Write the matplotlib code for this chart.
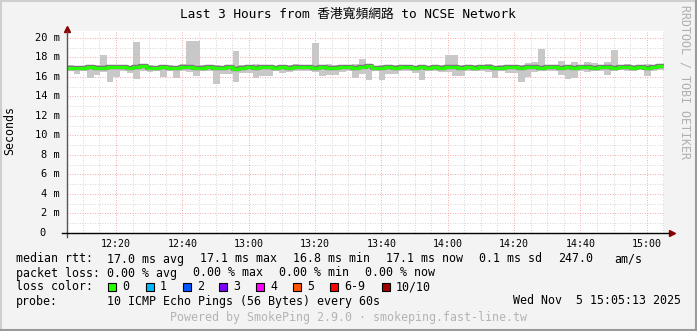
import numpy as np
import matplotlib.pyplot as plt
from matplotlib.patches import Rectangle
from matplotlib.lines import Line2D

W, H = 697, 331
MONO = 'DejaVu Sans Mono'

# time axis in minutes after 12:00, 2-minute smoke bins
t_start = 5.22
t_end = 185.22
bin_minutes = 2.0

smoke_hi = [17.2, 17.1, 17.1, 17.2, 17.2, 18.2, 17.1, 17.2, 17.1, 17.1,
            19.6, 17.1, 17.2, 17.1, 17.1, 17.2, 17.1, 17.3, 19.7, 19.7,
            17.2, 17.2, 17.2, 17.1, 17.1, 18.6, 17.2, 17.1, 17.3, 17.2,
            17.2, 17.1, 17.1, 17.2, 17.3, 17.2, 17.2, 19.5, 17.2, 17.3,
            17.2, 17.1, 17.2, 17.3, 17.8, 17.2, 17.1, 17.2, 17.2, 17.2,
            17.1, 17.2, 17.1, 17.2, 17.1, 17.1, 17.2, 18.2, 18.2, 17.2,
            17.1, 17.2, 17.2, 17.3, 17.1, 17.2, 17.2, 17.1, 17.2, 17.4,
            17.5, 18.9, 17.2, 17.2, 17.6, 17.2, 17.5, 17.2, 17.5, 17.4,
            17.2, 17.5, 18.8, 17.2, 17.3, 17.2, 17.2, 17.3, 17.1, 17.2]
smoke_lo = [16.6, 16.3, 16.6, 15.9, 16.2, 16.5, 15.5, 16.0, 16.6, 16.4,
            15.8, 16.6, 16.5, 16.6, 16.0, 16.6, 15.9, 16.6, 16.5, 16.1,
            16.6, 16.6, 15.3, 16.3, 16.3, 15.5, 16.4, 16.4, 15.9, 16.1,
            16.1, 16.6, 16.4, 16.5, 16.6, 16.6, 16.6, 16.5, 16.1, 16.2,
            16.2, 16.5, 16.6, 15.9, 16.3, 15.7, 16.6, 15.7, 16.3, 16.3,
            16.6, 16.6, 16.4, 15.7, 16.6, 16.6, 16.5, 16.5, 16.1, 16.1,
            16.6, 16.6, 16.6, 16.5, 15.9, 16.6, 16.4, 16.4, 15.5, 16.0,
            16.5, 16.6, 16.6, 16.6, 16.2, 15.8, 15.9, 16.6, 16.5, 16.6,
            16.6, 16.2, 16.6, 16.7, 16.6, 16.6, 16.7, 16.1, 16.6, 16.7]
median_rtt = [16.95, 16.9, 16.95, 17.0, 16.95, 16.9, 17.0, 17.05, 17.0, 16.95,
              17.05, 17.1, 16.95, 16.9, 17.0, 16.9, 16.95, 17.0, 17.05, 16.9,
              16.95, 17.0, 16.95, 16.9, 17.0, 16.85, 16.9, 17.0, 16.95, 17.0,
              17.05, 16.95, 17.0, 16.95, 17.0, 17.05, 17.0, 16.9, 17.0, 16.95,
              16.9, 17.05, 17.0, 16.95, 17.0, 17.1, 16.95, 16.9, 17.0, 16.95,
              17.05, 17.0, 16.95, 17.05, 16.95, 17.0, 16.95, 17.0, 17.05, 16.95,
              17.0, 16.95, 17.0, 17.05, 16.9, 16.95, 17.0, 17.05, 16.95, 17.0,
              17.0, 16.95, 17.05, 17.0, 16.95, 17.0, 16.95, 17.05, 17.0, 16.95,
              17.0, 17.05, 16.95, 17.0, 17.05, 16.95, 17.0, 16.95, 17.05, 17.1]

x_ticks = [20, 40, 60, 80, 100, 120, 140, 160, 180]
x_labels = ['12:20', '12:40', '13:00', '13:20', '13:40', '14:00', '14:20', '14:40', '15:00']
y_ticks = [0, 2, 4, 6, 8, 10, 12, 14, 16, 18, 20]

loss_labels = ['0', '1', '2', '3', '4', '5', '6-9', '10/10']
loss_colors = ['#26ff00', '#00b8ff', '#0059ff', '#7e00ff', '#ff00ff', '#ff5500', '#ff0000', '#a10000']
loss_box_x = [108, 146, 183, 219, 256, 293, 330, 382]

title = 'Last 3 Hours from 香港寬頻網路 to NCSE Network'


def fx(px):
    return px / W


def fy(py):
    return 1 - py / H


def plot_chart():
    fig = plt.figure(figsize=(W / 100, H / 100), dpi=100)
    fig.patch.set_facecolor('#f3f3f3')

    # frame shading
    fig.add_artist(Line2D([0, 1], [fy(0.7), fy(0.7)], transform=fig.transFigure, color='#cfcfcf', lw=1.5))
    fig.add_artist(Line2D([fx(0.7), fx(0.7)], [0, 1], transform=fig.transFigure, color='#cfcfcf', lw=1.5))
    fig.add_artist(Line2D([0, 1], [fy(330.3), fy(330.3)], transform=fig.transFigure, color='#9a9a9a', lw=1.5))
    fig.add_artist(Line2D([fx(696.3), fx(696.3)], [0, 1], transform=fig.transFigure, color='#9a9a9a', lw=1.5))

    ax = fig.add_axes([fx(67), fy(233), fx(664) - fx(67), fy(31) - fy(233)])
    ax.set_facecolor('white')
    ax.set_xlim(t_start, t_end)
    ax.set_ylim(0, 20.7)
    for s in ax.spines.values():
        s.set_visible(False)

    ax.set_xticks(x_ticks)
    ax.set_xticks(np.arange(10, 186, 5), minor=True)
    ax.set_yticks(y_ticks)
    ax.set_yticks(np.arange(1, 21, 2), minor=True)
    ax.grid(which='minor', color='#d8d8d8', linestyle=(0, (1, 1.5)), linewidth=0.72)
    ax.grid(which='major', color='#f0b0b0', linestyle=(0, (1, 1.5)), linewidth=0.72)
    ax.set_axisbelow(True)
    ax.tick_params(which='both', length=0, labelleft=False)
    ax.set_xticklabels(x_labels, fontsize=7.2, family=MONO)
    ax.tick_params(axis='x', pad=4)

    # smoke
    n = len(smoke_hi)
    starts = t_start + bin_minutes * np.arange(n)
    hi = np.array(smoke_hi)
    lo = np.array(smoke_lo)
    ax.bar(starts, hi - lo, bottom=lo, width=bin_minutes, align='edge',
           color='#c8c8c8', linewidth=0, zorder=2)

    # median line
    xs = np.append(starts, starts[-1] + bin_minutes)
    ys = np.append(median_rtt, median_rtt[-1])
    ax.plot(xs, ys, drawstyle='steps-post', color='#7a7a7a', lw=3.2, zorder=3)
    ax.plot(xs, ys, drawstyle='steps-post', color='#26ff00', lw=2.2, zorder=4)

    # axes lines with arrows
    ax.plot([0, 0], [-4 / 202, 1.0], transform=ax.transAxes, color='#555555', lw=1, clip_on=False, zorder=5)
    ax.plot([-5 / 597, 1.008], [0, 0], transform=ax.transAxes, color='black', lw=1, clip_on=False, zorder=5)
    ax.plot([0], [1.012], marker='^', ms=4, color='#8b0000', transform=ax.transAxes, clip_on=False)
    ax.plot([1.0126], [0], marker='>', ms=4, color='#8b0000', transform=ax.transAxes, clip_on=False)

    # y tick labels
    for v in y_ticks:
        yp = 233 - v * (202 / 20.7)
        if v:
            fig.text(fx(60), fy(yp), f'{v} m', ha='right', va='center', fontsize=7.5, family=MONO)
        else:
            fig.text(fx(45.5), fy(yp), '0', ha='right', va='center', fontsize=7.5, family=MONO)

    fig.text(fx(348), fy(14), title, ha='center', va='center', fontsize=9.2,
             family=[MONO, 'Noto Sans CJK TC'])
    fig.text(fx(10), fy(131), 'Seconds', rotation=90, ha='center', va='center', fontsize=8.4, family=MONO)
    fig.text(fx(685), fy(82), 'RRDTOOL / TOBI OETIKER', rotation=270, ha='center', va='center',
             fontsize=8.4, family=MONO, color='#b0b0b0')

    # legend lines
    tk = dict(fontsize=8.4, family=MONO, va='center', ha='left')
    row1 = [(16, 'median rtt:'), (107, '17.0 ms avg'), (200, '17.1 ms max'), (293, '16.8 ms min'),
            (386, '17.1 ms now'), (479, '0.1 ms sd'), (558, '247.0'), (614, 'am/s')]
    row2 = [(16, 'packet loss:'), (107, '0.00 % avg'), (193, '0.00 % max'), (279, '0.00 % min'),
            (365, '0.00 % now')]
    for x, s in row1:
        fig.text(fx(x), fy(259), s, **tk)
    for x, s in row2:
        fig.text(fx(x), fy(273), s, **tk)
    fig.text(fx(16), fy(287), 'loss color:', **tk)
    for x, lab, c in zip(loss_box_x, loss_labels, loss_colors):
        fig.add_artist(Rectangle((fx(x), fy(291)), 8 / W, 8 / H, transform=fig.transFigure,
                                 facecolor=c, edgecolor='black', lw=0.8))
        fig.text(fx(x + 14), fy(287), lab, **tk)
    fig.text(fx(16), fy(301), 'probe:', **tk)
    fig.text(fx(107), fy(301), '10 ICMP Echo Pings (56 Bytes) every 60s', **tk)
    fig.text(fx(513), fy(301), 'Wed Nov  5 15:05:13 2025', **tk)
    fig.text(fx(348), fy(318), 'Powered by SmokePing 2.9.0 · smokeping.fast-line.tw',
             fontsize=8.4, family=MONO, va='center', ha='center', color='#b4b4b4')

    fig.savefig('out.png', dpi=100, facecolor=fig.get_facecolor())


if __name__ == '__main__':
    plot_chart()
